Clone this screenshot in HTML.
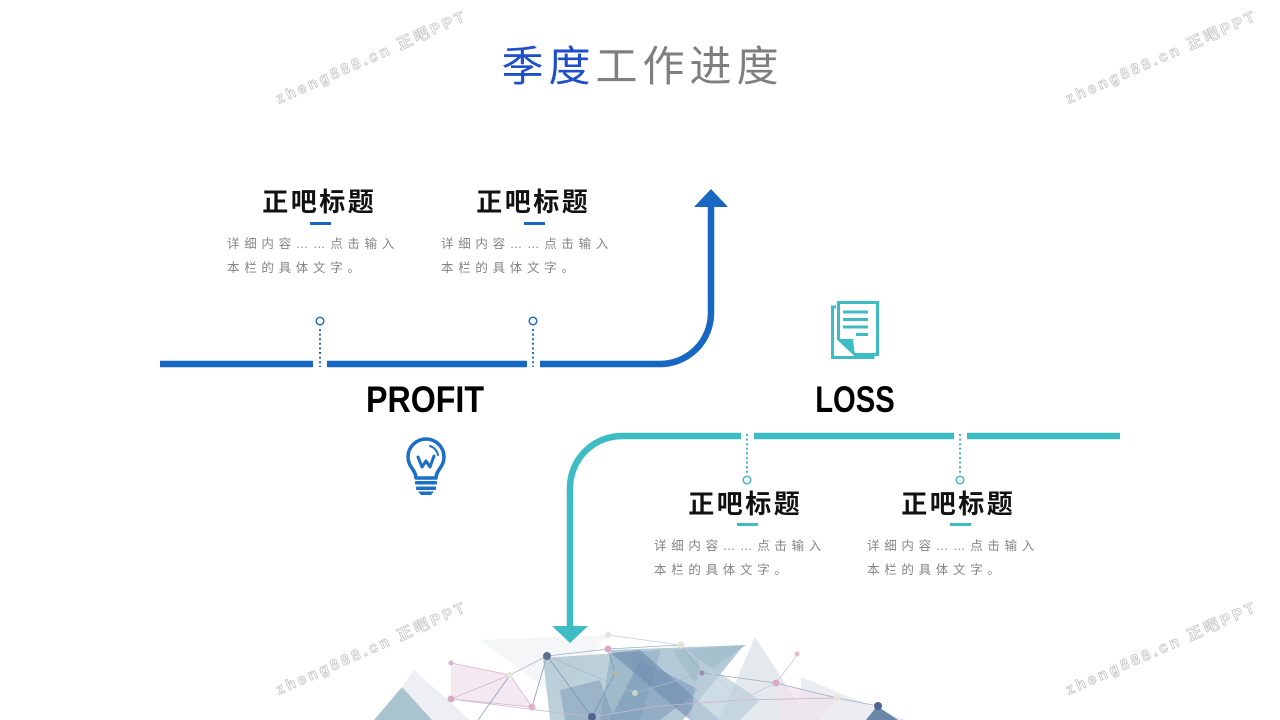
<!DOCTYPE html>
<html><head><meta charset="utf-8">
<style>
html,body{margin:0;padding:0;}
body{width:1280px;height:720px;position:relative;overflow:hidden;background:#fff;font-family:"Liberation Sans","Noto Sans CJK SC",sans-serif;}
.abs{position:absolute;}
.title{left:0;width:1280px;top:46px;text-align:center;font-family:"Liberation Sans","Noto Sans CJK SC",sans-serif;font-size:42px;line-height:42px;letter-spacing:5px;padding-left:5px;box-sizing:border-box;font-weight:400;color:#7f7f7f;}
.title .b{color:#1f4fc8;}
.h{width:200px;text-align:center;font-family:"Noto Sans CJK SC",sans-serif;font-weight:bold;font-size:26px;line-height:26px;letter-spacing:2.5px;padding-left:2.5px;box-sizing:border-box;color:#111;}
.d{font-family:"Liberation Sans","Noto Sans CJK SC",sans-serif;font-size:12.5px;line-height:24px;letter-spacing:4.7px;color:#858585;white-space:nowrap;}
.big{font-family:"Liberation Sans",sans-serif;font-weight:bold;font-size:37px;line-height:37px;color:#000;white-space:nowrap;}
.wm{font-family:"Liberation Sans","Noto Sans CJK SC",sans-serif;font-weight:bold;font-size:15px;letter-spacing:3.2px;color:#fff;-webkit-text-stroke:0.8px #c4c4c4;white-space:nowrap;width:240px;text-align:center;line-height:20px;transform:rotate(-24deg);}
</style></head><body>

<svg class="abs" style="left:0;top:0" width="1280" height="720" viewBox="0 0 1280 720">
  <g>
    <polygon points="414,670 470,720 380,720" fill="#e6e8ef" opacity="0.7"/>
    <polygon points="374,720 402,687 432,720" fill="#a9c3cf"/>
    <polygon points="451,663 510,675 532,707 451,699" fill="#efe0ea" opacity="0.7"/>
    <polygon points="480,640 607,635 560,700" fill="#eef0f4" opacity="0.6"/>
    <polygon points="543,658 661,650 640,720 550,720" fill="#a7c1cf" opacity="0.75"/>
    <polygon points="611,650 744,645 683,720 600,720" fill="#8eaec3" opacity="0.65"/>
    <polygon points="611,653 640,650 720,720 690,720" fill="#5f80a8" opacity="0.5"/>
    <polygon points="640,660 700,690 660,720 610,720" fill="#6f8fb1" opacity="0.5"/>
    <polygon points="672,650 746,645 694,682" fill="#a3c0cd" opacity="0.85"/>
    <polygon points="755,637 719,720 809,720" fill="#dde3ea" opacity="0.8"/>
    <polygon points="700,660 760,700 740,720 690,720" fill="#b9cddb" opacity="0.7"/>
    <polygon points="801,677 905,720 800,720" fill="#e7eaf0" opacity="0.85"/>
    <polygon points="775,683 837,698 820,720 780,720" fill="#efe2ec" opacity="0.7"/>
    <polygon points="877,706 866,720 898,720" fill="#6a86a8"/>
    <polygon points="560,690 600,680 615,720 565,720" fill="#7a97b6" opacity="0.5"/>
  </g>
  <g stroke-width="0.8" fill="none">
    <polyline points="451,663 510,675 532,707 451,699 510,675" stroke="#d8b6cd"/>
    <polyline points="547,656 608,649 681,645 702,673 776,683 837,698 878,706" stroke="#9aaec4"/>
    <polyline points="547,656 592,717 615,673 608,649" stroke="#7f95b3"/>
    <polyline points="510,675 547,656 635,693 702,673" stroke="#a9b8cc"/>
    <polyline points="451,699 592,717 658,706 741,700 837,698" stroke="#c9b6cc"/>
    <polyline points="608,635 681,645 741,700" stroke="#c9d2de"/>
    <polyline points="798,654 776,683 741,700" stroke="#d9c6d6"/>
    <polyline points="478,720 510,675" stroke="#8aa0bc"/>
    <polyline points="532,707 547,656" stroke="#8aa0bc"/>
  </g>
  <g>
    <circle cx="547" cy="656" r="4" fill="#5d6f99"/>
    <circle cx="608" cy="649" r="3.5" fill="#d9a9c8"/>
    <circle cx="608" cy="635" r="3" fill="#ecdfe6"/>
    <circle cx="681" cy="645" r="3.5" fill="#e8e2d6"/>
    <circle cx="451" cy="663" r="2.5" fill="#d9b3cc"/>
    <circle cx="510" cy="675" r="3" fill="#ece6d8"/>
    <circle cx="451" cy="699" r="3.5" fill="#d9a9c8"/>
    <circle cx="532" cy="707" r="3.5" fill="#e2b3ca"/>
    <circle cx="592" cy="717" r="4" fill="#4e6691"/>
    <circle cx="635" cy="693" r="3" fill="#c9d6c8"/>
    <circle cx="616" cy="673" r="3" fill="#a9bba8"/>
    <circle cx="702" cy="673" r="2.5" fill="#a58bb0"/>
    <circle cx="776" cy="683" r="3.5" fill="#d9a9c8"/>
    <circle cx="797" cy="654" r="2.5" fill="#e2b9d0"/>
    <circle cx="837" cy="698" r="3" fill="#ebe2d2"/>
    <circle cx="878" cy="706" r="4" fill="#4e6691"/>
    <circle cx="741" cy="700" r="2.5" fill="#c9cbd6"/>
  </g>

  <g stroke="#1767c3" stroke-width="6.5" fill="none">
    <path d="M160 364 H313"/>
    <path d="M327 364 H527"/>
    <path d="M540 364 H660 A51 51 0 0 0 711 313 V205"/>
  </g>
  <polygon points="694,207 711,189 728,207" fill="#1767c3"/>
  <g stroke="#2a6db8" stroke-width="2" stroke-dasharray="2 2.6" fill="none">
    <line x1="320" y1="329" x2="320" y2="367"/>
    <line x1="533" y1="329" x2="533" y2="367"/>
  </g>
  <circle cx="320" cy="321" r="3.8" fill="#fff" stroke="#2a6db8" stroke-width="1.5"/>
  <circle cx="533" cy="321" r="3.8" fill="#fff" stroke="#2a6db8" stroke-width="1.5"/>

  <g stroke="#3dbcc3" stroke-width="6.5" fill="none">
    <path d="M1120 436 H967"/>
    <path d="M954 436 H754"/>
    <path d="M741 436 H622 A52 52 0 0 0 570 488 V627"/>
  </g>
  <polygon points="552,626 570,643 588,626" fill="#3dbcc3"/>
  <g stroke="#46b8bf" stroke-width="2" stroke-dasharray="2 2.6" fill="none">
    <line x1="747" y1="434" x2="747" y2="473"/>
    <line x1="960" y1="434" x2="960" y2="473"/>
  </g>
  <circle cx="747" cy="480" r="3.8" fill="#fff" stroke="#46b8bf" stroke-width="1.5"/>
  <circle cx="960" cy="480" r="3.8" fill="#fff" stroke="#46b8bf" stroke-width="1.5"/>

  <rect x="310" y="222" width="21" height="3" fill="#1767c3"/>
  <rect x="524" y="222" width="21" height="3" fill="#1767c3"/>
  <rect x="737" y="523" width="21" height="3" fill="#3dbcc3"/>
  <rect x="950" y="523" width="21" height="3" fill="#3dbcc3"/>

  <g fill="none" stroke="#1a6fc6" stroke-width="3.5" stroke-linejoin="round" stroke-linecap="round">
    <path d="M416 478 C416 470 408 467 408 457 A18 18 0 1 1 444 457 C444 467 436 470 436 478 Z"/>
    <polyline points="418,457 422,467 426,461 430,467 434,456" stroke-width="3"/>
    <path d="M430 446 A12 12 0 0 1 438 455" stroke-width="2"/>
  </g>
  <g fill="#1a6fc6">
    <rect x="415" y="481" width="22" height="3.5" rx="1"/>
    <rect x="416" y="486.5" width="20" height="3.5" rx="1"/>
    <path d="M418 491.5 H434 L431 495 H421 Z"/>
  </g>

  <g fill="none" stroke="#3dbcc3" stroke-width="3">
    <path d="M836 307 H832.5 V357.5 H873 V354"/>
    <path d="M838.5 302.5 H877.5 V354.5 H855 L838.5 339 Z"/>
  </g>
  <polygon points="838,339 853,339 855,356" fill="#3dbcc3"/>
  <g stroke="#3dbcc3" stroke-width="3">
    <line x1="843" y1="312" x2="868" y2="312"/>
    <line x1="843" y1="319.5" x2="868" y2="319.5"/>
    <line x1="843" y1="327" x2="868" y2="327"/>
    <line x1="856" y1="334.5" x2="868" y2="334.5"/>
  </g>
</svg>

<div class="abs title"><span class="b">季度</span>工作进度</div>

<div class="abs h" style="left:218px;top:188px;">正吧标题</div>
<div class="abs h" style="left:432px;top:188px;">正吧标题</div>
<div class="abs d" style="left:227px;top:232px;">详细内容……点击输入<br>本栏的具体文字。</div>
<div class="abs d" style="left:441px;top:232px;">详细内容……点击输入<br>本栏的具体文字。</div>

<div class="abs h" style="left:644px;top:490px;">正吧标题</div>
<div class="abs h" style="left:857px;top:490px;">正吧标题</div>
<div class="abs d" style="left:654px;top:534px;">详细内容……点击输入<br>本栏的具体文字。</div>
<div class="abs d" style="left:867px;top:534px;">详细内容……点击输入<br>本栏的具体文字。</div>

<div class="abs big" style="left:325px;width:200px;text-align:center;top:381px;transform:scaleX(0.87);">PROFIT</div>
<div class="abs big" style="left:755px;width:200px;text-align:center;top:381px;transform:scaleX(0.79);">LOSS</div>

<div class="abs wm" style="left:252px;top:48px;">zheng888.cn 正吧PPT</div>
<div class="abs wm" style="left:1042px;top:48px;">zheng888.cn 正吧PPT</div>
<div class="abs wm" style="left:252px;top:639px;">zheng888.cn 正吧PPT</div>
<div class="abs wm" style="left:1042px;top:639px;">zheng888.cn 正吧PPT</div>

</body></html>
